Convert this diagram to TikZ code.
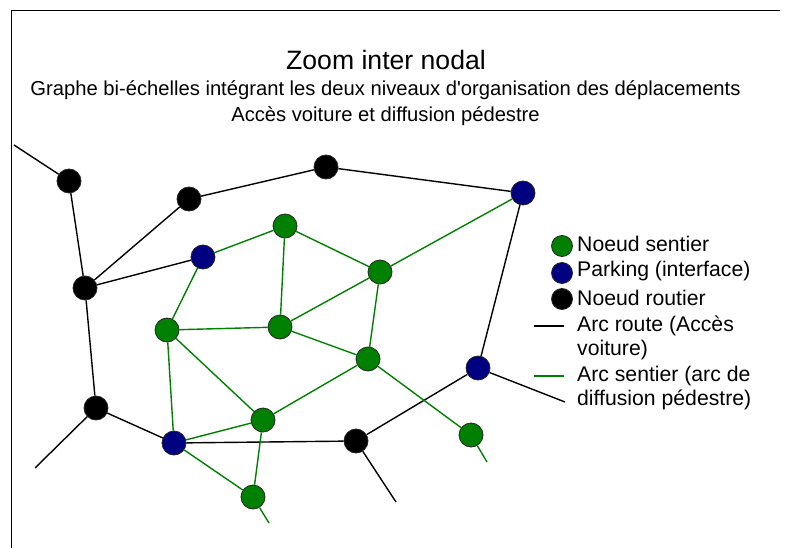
\documentclass[tikz,border=0pt]{standalone}
\usepackage{fontspec}
\setmainfont{Liberation Sans}[Ligatures=TeXOff]
\definecolor{pgreen}{RGB}{0,128,0}
\definecolor{pnavy}{RGB}{0,0,128}
\begin{document}
\begin{tikzpicture}[x=1pt,y=-1pt,
  nd/.style={circle,draw=black!85,line width=0.8pt,inner sep=0pt,minimum size=24pt},
  route/.style={nd,fill=black},
  park/.style={nd,fill=pnavy},
  sent/.style={nd,fill=pgreen},
  lgd/.style={circle,draw=black!85,line width=0.8pt,inner sep=0pt,minimum size=21pt},
  road/.style={black,line width=1.4pt},
  path/.style={pgreen,line width=1.4pt},
  txt/.style={inner sep=0pt,font=\fontsize{21.2}{24}\selectfont,align=left,anchor=west},
  frame/.style={black,line width=1pt}]
\useasboundingbox (0,0) rectangle (789,548);
\draw[frame] (780,11) -- (11,11) -- (11,548);
% titles
\node[inner sep=0pt,font=\fontsize{26.6}{30}\selectfont] (t1) at (386,60) {Zoom inter nodal};
\node[inner sep=0pt,font=\fontsize{20.2}{24}\selectfont] (t2) at (385.5,90) {Graphe bi-échelles intégrant les deux niveaux d'organisation des déplacements};
\node[inner sep=0pt,font=\fontsize{20.2}{24}\selectfont] (t3) at (385.5,116) {Accès voiture et diffusion pédestre};
% free ends
\coordinate (f1) at (14,145);
\coordinate (f2) at (35,468);
\coordinate (f3) at (396,502);
\coordinate (f4) at (565,402);
\coordinate (f5) at (269,523);
\coordinate (f6) at (487,462);
% nodes
\node[route] (R1) at (69,181) {};
\node[route] (R2) at (189,199) {};
\node[route] (R3) at (326,167) {};
\node[route] (R4) at (85,288) {};
\node[route] (R5) at (96,408) {};
\node[route] (R6) at (356,441) {};
\node[park] (P1) at (203,257) {};
\node[park] (P2) at (523,193) {};
\node[park] (P3) at (478,368) {};
\node[park] (P4) at (174,443) {};
\node[sent] (G1) at (285,226) {};
\node[sent] (G2) at (380,272) {};
\node[sent] (G3) at (167,330) {};
\node[sent] (G4) at (280,327) {};
\node[sent] (G5) at (368,359) {};
\node[sent] (G6) at (263,420) {};
\node[sent] (G7) at (253,497) {};
\node[sent] (G8) at (471,435) {};
% road arcs
\draw[road] (f1) -- (R1);
\draw[road] (R1) -- (R4);
\draw[road] (R2) -- (R4);
\draw[road] (R2) -- (R3);
\draw[road] (R3) -- (P2);
\draw[road] (P1) -- (R4);
\draw[road] (R4) -- (R5);
\draw[road] (R5) -- (f2);
\draw[road] (R5) -- (P4);
\draw[road] (P4) -- (R6);
\draw[road] (R6) -- (f3);
\draw[road] (R6) -- (P3);
\draw[road] (P3) -- (P2);
\draw[road] (P3) -- (f4);
% path arcs
\draw[path] (P1) -- (G1);
\draw[path] (P1) -- (G3);
\draw[path] (G1) -- (G2);
\draw[path] (G1) -- (G4);
\draw[path] (G2) -- (P2);
\draw[path] (G2) -- (G4);
\draw[path] (G2) -- (G5);
\draw[path] (G3) -- (G4);
\draw[path] (G3) -- (G6);
\draw[path] (G3) -- (P4);
\draw[path] (G4) -- (G5);
\draw[path] (G5) -- (G6);
\draw[path] (G5) -- (G8);
\draw[path] (G6) -- (P4);
\draw[path] (G6) -- (G7);
\draw[path] (P4) -- (G7);
\draw[path] (G7) -- (f5);
\draw[path] (G8) -- (f6);
% legend
\node[lgd,fill=pgreen] (L1) at (562,246) {};
\node[lgd,fill=pnavy] (L2) at (562,273) {};
\node[lgd,fill=black] (L3) at (562,299) {};
\coordinate (L4a) at (534,326);
\coordinate (L4b) at (564,326);
\coordinate (L5a) at (534,376);
\coordinate (L5b) at (564,376);
\draw[black,line width=1.2pt] (L4a) -- (L4b);
\draw[pgreen,line width=1.2pt] (L5a) -- (L5b);
\node[txt] (T1) at (577,244) {Noeud sentier};
\node[txt] (T2) at (577,271) {Parking (interface)};
\node[txt] (T3) at (577,298) {Noeud routier};
\node[txt] (T4) at (577,338) {Arc route (Accès\\voiture)};
\node[txt] (T5) at (577,388) {Arc sentier (arc de\\diffusion pédestre)};
\end{tikzpicture}
\end{document}
